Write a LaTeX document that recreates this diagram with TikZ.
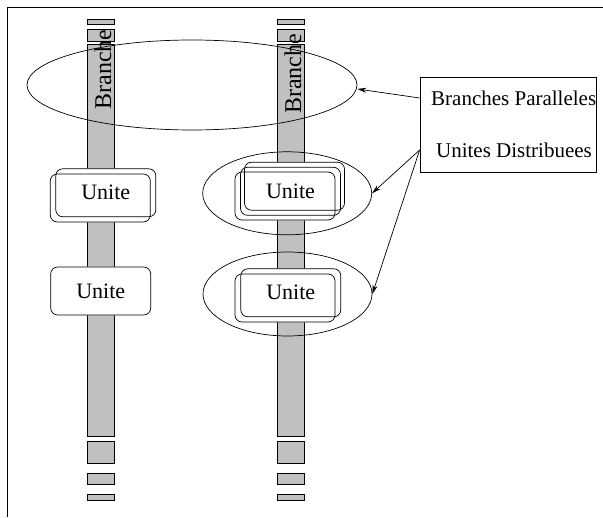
\documentclass[tikz,border=0pt]{standalone}
\usepackage{fontspec}
\setmainfont{Liberation Serif}
\usetikzlibrary{shapes.geometric,arrows.meta}
\pgfdeclarelayer{bars}
\pgfdeclarelayer{fills}
\pgfsetlayers{bars,fills,main}
\tikzset{
  lw/.style={line width=0.7pt},
  barpiece/.style={lw, draw=black, fill=bargray},
  unitbox/.style={lw, draw=black, rounded corners=7pt, minimum width=100pt, minimum height=48pt, inner sep=0pt, font=\fontsize{22}{26}\selectfont},
  grp/.style={lw, draw=black, ellipse, inner sep=0pt},
  lbl/.style={inner sep=0pt, font=\fontsize{21}{25}\selectfont},
  branchlbl/.style={inner sep=0pt, rotate=90, font=\fontsize{24}{28}\selectfont},
  arr/.style={lw, -{Stealth[length=9pt,width=5pt]}},
}
\definecolor{bargray}{HTML}{C0C0C0}
\begin{document}
\begin{tikzpicture}[x=1pt,y=-1pt]
\useasboundingbox (0,0) rectangle (603,518);
\draw[line width=1pt] (7,517) -- (7,8) -- (603,8);
% bars
\begin{pgfonlayer}{bars}
\foreach \bx in {87,277}{
  \foreach \ya/\yb in {19/24, 29/41, 44.7/436, 441.7/463.3, 473.3/484, 494/500}{
    \draw[barpiece] (\bx,\ya) rectangle (\bx+27,\yb);
  }
}
\end{pgfonlayer}
% branch labels
\node[branchlbl] (brL) at (103,69.5) {Branche};
\node[branchlbl] (brR) at (293,74) {Branche};
% group ellipses
\node[grp, minimum width=330pt, minimum height=90pt] (gBranch) at (192,85) {};
\node[grp, minimum width=169pt, minimum height=83pt] (gU1) at (287.2,193.3) {};
\node[grp, minimum width=169pt, minimum height=84pt] (gU2) at (287.5,294) {};
% units left
\node[unitbox] (uLa) at (100.3,198) {};
\node[unitbox] (uLb) at (105.8,192.8) {Unite};
\node[unitbox] (uL2) at (100.7,291) {Unite};
% units right top
\node[unitbox] (uR1a) at (285,196) {};
\node[unitbox] (uR1b) at (290.5,191.3) {Unite};
\node[unitbox] (uR1c) at (294.5,186.2) {};
% units right bottom
\node[unitbox] (uR2a) at (285,298) {};
\node[unitbox] (uR2b) at (290.8,292.8) {Unite};
% white fills under unit boxes
\begin{pgfonlayer}{fills}
\foreach \n in {uLa,uLb,uL2,uR1a,uR1b,uR1c,uR2a,uR2b}{
  \fill[white, rounded corners=7pt] (\n.south west) rectangle (\n.north east);
}
\end{pgfonlayer}
% legend box
\node[lw, draw=black, minimum width=176pt, minimum height=95pt, inner sep=0pt] (legend) at (508,124.5) {};
\node[lbl] (tBranch) at (513.7,98) {Branches Paralleles};
\node[lbl] (tUnit) at (514,150) {Unites Distribuees};
\coordinate (s1) at (legend.west |- tBranch);
\coordinate (s2) at (legend.west |- tUnit);
\draw[arr] (s1) -- ([yshift=-4pt]gBranch.east);
\draw[arr] (s2) -- (gU1.east);
\draw[arr] (s2) -- (gU2.east);
\end{tikzpicture}
\end{document}
